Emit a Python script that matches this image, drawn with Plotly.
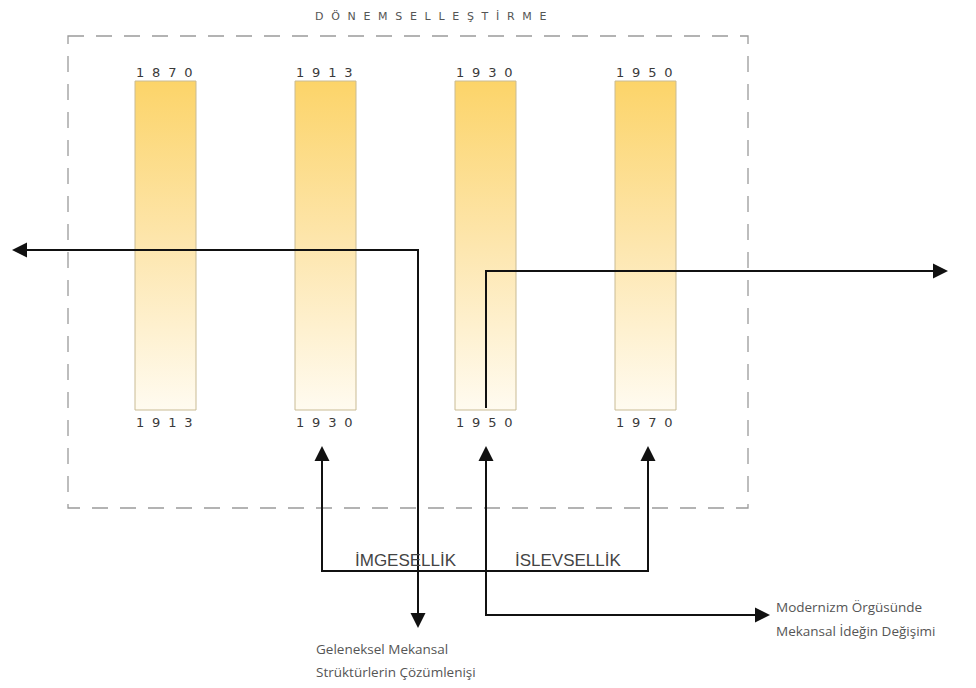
import plotly.graph_objects as go

# periods shown as columns
start_years = ["1870", "1913", "1930", "1950"]
end_years = ["1913", "1930", "1950", "1970"]
title = "DÖNEMSELLEŞTİRME"
bracket_labels = ["İMGESELLİK", "İSLEVSELLİK"]
left_note = ["Geleneksel Mekansal", "Strüktürlerin Çözümlenişi"]
right_note = ["Modernizm Örgüsünde", "Mekansal İdeğin Değişimi"]

# page body has an 8px margin, so axes are offset to keep pixel units
PAD = 8
W, H = 976, 688
BAR_X0, BAR_STEP, BAR_W = 135, 160, 61
BAR_TOP, BAR_BOT = 81, 410
GOLD = "#fcd469"
INK = "#111111"

def spaced(s, gap):
    return gap.join(s)

fig = go.Figure()

# gradient bars
for i, (a, b) in enumerate(zip(start_years, end_years)):
    x0 = BAR_X0 + i * BAR_STEP
    x1 = x0 + BAR_W
    fig.add_trace(go.Scatter(
        x=[x0, x1, x1, x0, x0], y=[BAR_TOP, BAR_TOP, BAR_BOT, BAR_BOT, BAR_TOP],
        mode="lines", fill="toself",
        line=dict(color="#c9bb94", width=1),
        fillgradient=dict(type="vertical", start=BAR_TOP, stop=BAR_BOT,
                          colorscale=[[0, GOLD], [0.5, "#fde6ae"], [1, "#fffbf0"]]),
        hoverinfo="skip", showlegend=False))
    xc = (x0 + x1) / 2
    fig.add_annotation(x=xc - 2, y=BAR_TOP + 1, text=spaced(a, "\u2002\u200a"), showarrow=False,
                       yanchor="bottom", font=dict(family="DejaVu Sans", size=13, color="#3a3a3a"))
    fig.add_annotation(x=xc - 2, y=BAR_BOT + 3, text=spaced(b, "\u2002\u200a"), showarrow=False,
                       yanchor="top", font=dict(family="DejaVu Sans", size=13, color="#3a3a3a"))

shapes = []
# dashed frame
shapes.append(dict(type="rect", x0=68, y0=36, x1=748, y1=508,
                   line=dict(color="#9a9a9a", width=1.3, dash="16px,12px")))

def path(points):
    d = "M " + " L ".join(f"{x},{y}" for x, y in points)
    shapes.append(dict(type="path", path=d, line=dict(color=INK, width=2)))

def head(tip, frm):
    fig.add_annotation(x=tip[0], y=tip[1], ax=frm[0], ay=frm[1], axref="x", ayref="y",
                       xref="x", yref="y", text="", showarrow=True,
                       arrowhead=2, arrowsize=1.5, arrowwidth=2, arrowcolor=INK)

# left arrow: down then left
path([(418, 622), (418, 250), (18, 250)])
head((12, 250), (40, 250))
head((418, 628), (418, 600))

# right arrow from inside 1950 bar
path([(486, 408), (486, 271), (942, 271)])
head((948, 271), (920, 271))

# bracket between 1930 and 1970
path([(322, 452), (322, 571), (648, 571), (648, 452)])
head((322, 446), (322, 475))
head((648, 446), (648, 475))

# 1950 arrow down to note
path([(486, 452), (486, 615), (764, 615)])
head((486, 446), (486, 475))
head((770, 615), (745, 615))

fig.add_annotation(x=430, y=16, text=spaced(title, "\u2002\u2009"), showarrow=False,
                   font=dict(family="DejaVu Sans", size=11, color="#555"))
fig.add_annotation(x=406, y=560, text=bracket_labels[0], showarrow=False,
                   font=dict(family="Liberation Sans", size=17, color="#444"))
fig.add_annotation(x=568, y=560, text=bracket_labels[1], showarrow=False,
                   font=dict(family="Liberation Sans", size=17, color="#444"))
for k, line in enumerate(left_note):
    fig.add_annotation(x=314, y=649 + k * 23, text=line, showarrow=False,
                       xanchor="left", font=dict(family="Open Sans", size=13.5, color="#555"))
for k, line in enumerate(right_note):
    fig.add_annotation(x=774, y=607 + k * 24, text=line, showarrow=False,
                       xanchor="left", font=dict(family="Open Sans", size=13.5, color="#555"))

fig.update_layout(
    width=W - 2 * PAD, height=H - 2 * PAD, margin=dict(l=0, r=0, t=0, b=0),
    plot_bgcolor="white", paper_bgcolor="white", shapes=shapes,
    xaxis=dict(range=[PAD, W - PAD], visible=False, fixedrange=True),
    yaxis=dict(range=[H - PAD, PAD], visible=False, fixedrange=True),
)

fig.write_html("out.html")
